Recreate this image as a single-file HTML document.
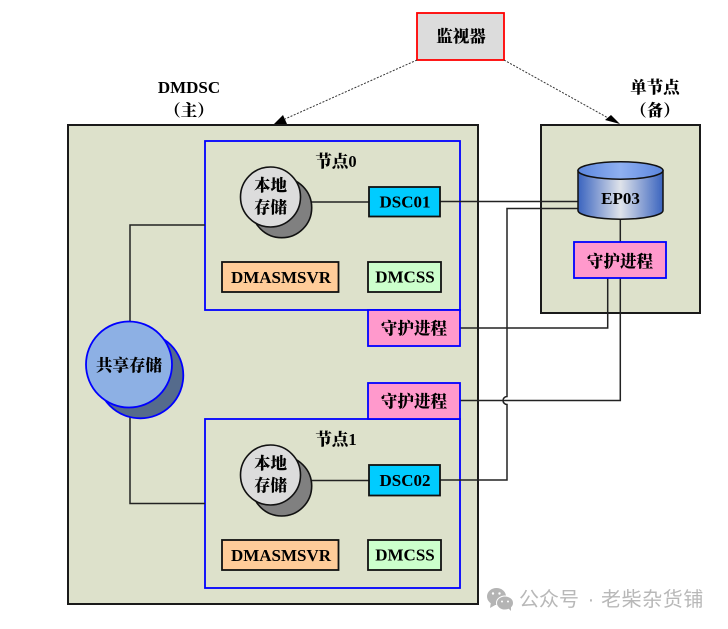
<!DOCTYPE html>
<html><head><meta charset="utf-8">
<style>
html,body{margin:0;padding:0;background:#fff;width:728px;height:629px;overflow:hidden}
svg{display:block}
text{font-family:"Liberation Serif","Noto Serif CJK SC",serif;font-weight:bold;font-size:17px;fill:#000;text-anchor:middle}
.c{font-family:"Liberation Serif","Noto Serif CJK SC",serif;font-size:16.500px;font-weight:900}
.w{font-family:"Liberation Sans","Noto Sans CJK SC",sans-serif;font-weight:normal;font-size:20px;fill:#b8b8b8;text-anchor:start}
</style></head><body>
<svg width="728" height="629" viewBox="0 0 728 629" xmlns="http://www.w3.org/2000/svg">
<defs>
<linearGradient id="g1" x1="0" x2="1" y1="0" y2="0"><stop offset="0" stop-color="#3a64bf"/><stop offset=".5" stop-color="#dfe3ea"/><stop offset="1" stop-color="#3a64bf"/></linearGradient>
<linearGradient id="g2" x1="0" x2="1" y1="0" y2="0"><stop offset="0" stop-color="#5b86de"/><stop offset=".5" stop-color="#8fb0f0"/><stop offset="1" stop-color="#5b86de"/></linearGradient>
</defs>
<rect width="728" height="629" fill="#fff"/>
<!-- big boxes -->
<rect x="68" y="125" width="410" height="479" fill="#dde1cb" stroke="#1a1a1a" stroke-width="2"/>
<rect x="541" y="125" width="159" height="188" fill="#dde1cb" stroke="#1a1a1a" stroke-width="2"/>
<!-- monitor -->
<rect x="417" y="13" width="87" height="47" fill="#dcdcdc" stroke="#f00" stroke-width="1.800"/>
<text x="461" y="42" class="c">监视器</text>
<!-- dotted -->
<line x1="417" y1="60" x2="285" y2="119" stroke="#333" stroke-width="1" stroke-dasharray="2 1.500"/>
<line x1="504" y1="60" x2="610" y2="119" stroke="#333" stroke-width="1" stroke-dasharray="2 1.500"/>
<polygon points="274,124 283,115 287,124" fill="#000"/>
<polygon points="605,120 611,115 620,124" fill="#000"/>
<!-- titles -->
<text x="189" y="93">DMDSC</text>
<text x="189" y="116" class="c">（主）</text>
<text x="655" y="93" class="c">单节点</text>
<text x="655" y="116" class="c">（备）</text>
<!-- nodes -->
<rect x="205" y="141" width="255" height="169" fill="#dde1cb" stroke="#00f" stroke-width="1.800"/>
<rect x="205" y="419" width="255" height="169" fill="#dde1cb" stroke="#00f" stroke-width="1.800"/>
<text x="336" y="167" class="c">节点0</text>
<text x="336" y="445" class="c">节点1</text>
<!-- connectors -->
<g fill="none" stroke="#222" stroke-width="1.500">
<path d="M130 321V225H205"/>
<path d="M130 407V503.500H205"/>
<path d="M311 202H369"/>
<path d="M312 480.500H369"/>
<path d="M440 201.500H578"/>
<path d="M578 208.500H507V396.500a4 4 0 0 0 0 8V480H440"/>
<path d="M460 328H607.700V278"/>
<path d="M460 400.500H620.300V278"/>
<path d="M620.300 219V242"/>
</g>
<!-- DSC -->
<rect x="369" y="187" width="71" height="29.500" fill="#00ccff" stroke="#111" stroke-width="1.800"/>
<text x="405" y="207.500">DSC01</text>
<rect x="369" y="465" width="71" height="30.500" fill="#00ccff" stroke="#111" stroke-width="1.800"/>
<text x="405" y="486">DSC02</text>
<!-- DMASMSVR/DMCSS -->
<rect x="222" y="262" width="116.500" height="30" fill="#ffcc99" stroke="#111" stroke-width="1.800"/>
<text x="281" y="283">DMASMSVR</text>
<rect x="368" y="262" width="73" height="30" fill="#ccffcc" stroke="#111" stroke-width="1.800"/>
<text x="405" y="282.500">DMCSS</text>
<rect x="222" y="540" width="116.500" height="30" fill="#ffcc99" stroke="#111" stroke-width="1.800"/>
<text x="281" y="561">DMASMSVR</text>
<rect x="368" y="540" width="73" height="30" fill="#ccffcc" stroke="#111" stroke-width="1.800"/>
<text x="405" y="560.500">DMCSS</text>
<!-- daemons -->
<rect x="368" y="310" width="92" height="36" fill="#ff99cc" stroke="#00f" stroke-width="1.800"/>
<text x="414" y="334" class="c">守护进程</text>
<rect x="368" y="383" width="92" height="36" fill="#ff99cc" stroke="#00f" stroke-width="1.800"/>
<text x="414" y="407" class="c">守护进程</text>
<rect x="574" y="242" width="92" height="36" fill="#ff99cc" stroke="#00f" stroke-width="1.800"/>
<text x="620" y="267" class="c">守护进程</text>
<!-- local storage -->
<g stroke="#111" stroke-width="1.600">
<circle cx="281.700" cy="207.700" r="30" fill="#808080"/>
<circle cx="270.500" cy="197" r="30" fill="#dcdcdc"/>
<circle cx="281.700" cy="486" r="30" fill="#808080"/>
<circle cx="270.500" cy="475" r="30" fill="#dcdcdc"/>
</g>
<text x="270.500" y="191" class="c">本地</text>
<text x="270.500" y="213" class="c">存储</text>
<text x="270.500" y="469" class="c">本地</text>
<text x="270.500" y="491" class="c">存储</text>
<!-- shared -->
<g stroke="#00f" stroke-width="1.800">
<circle cx="140.300" cy="375.300" r="43" fill="#556b8c"/>
<circle cx="129" cy="364.500" r="43" fill="#8db0e4"/>
</g>
<text x="129" y="371" class="c">共享存储</text>
<!-- cylinder -->
<path d="M578 170.500V210.500A42.500 8.700 0 0 0 663 210.500V170.500Z" fill="url(#g1)" stroke="#111" stroke-width="1.500"/>
<ellipse cx="620.500" cy="170.500" rx="42.500" ry="8.700" fill="url(#g2)" stroke="#111" stroke-width="1.500"/>
<text x="620.500" y="204">EP03</text>
<!-- watermark -->
<g fill="#b4b4b4">
<ellipse cx="496.500" cy="596.500" rx="9.500" ry="8.500"/>
<polygon points="491,602 490,608 497,604"/>
<ellipse cx="505" cy="603" rx="8.500" ry="7" stroke="#fff" stroke-width="1"/>
<polygon points="508,608 511,611 511,606"/>
</g>
<g fill="#fff"><circle cx="493" cy="593.500" r="1.200"/><circle cx="499.500" cy="593.500" r="1.200"/><circle cx="502" cy="601.500" r="1"/><circle cx="508" cy="601.500" r="1"/></g>
<text x="519" y="606" class="w">公众号</text>
<text x="591" y="606" class="w" style="text-anchor:middle">·</text>
<text x="601" y="606" class="w" style="letter-spacing:.6px">老柴杂货铺</text>
</svg>
</body></html>
